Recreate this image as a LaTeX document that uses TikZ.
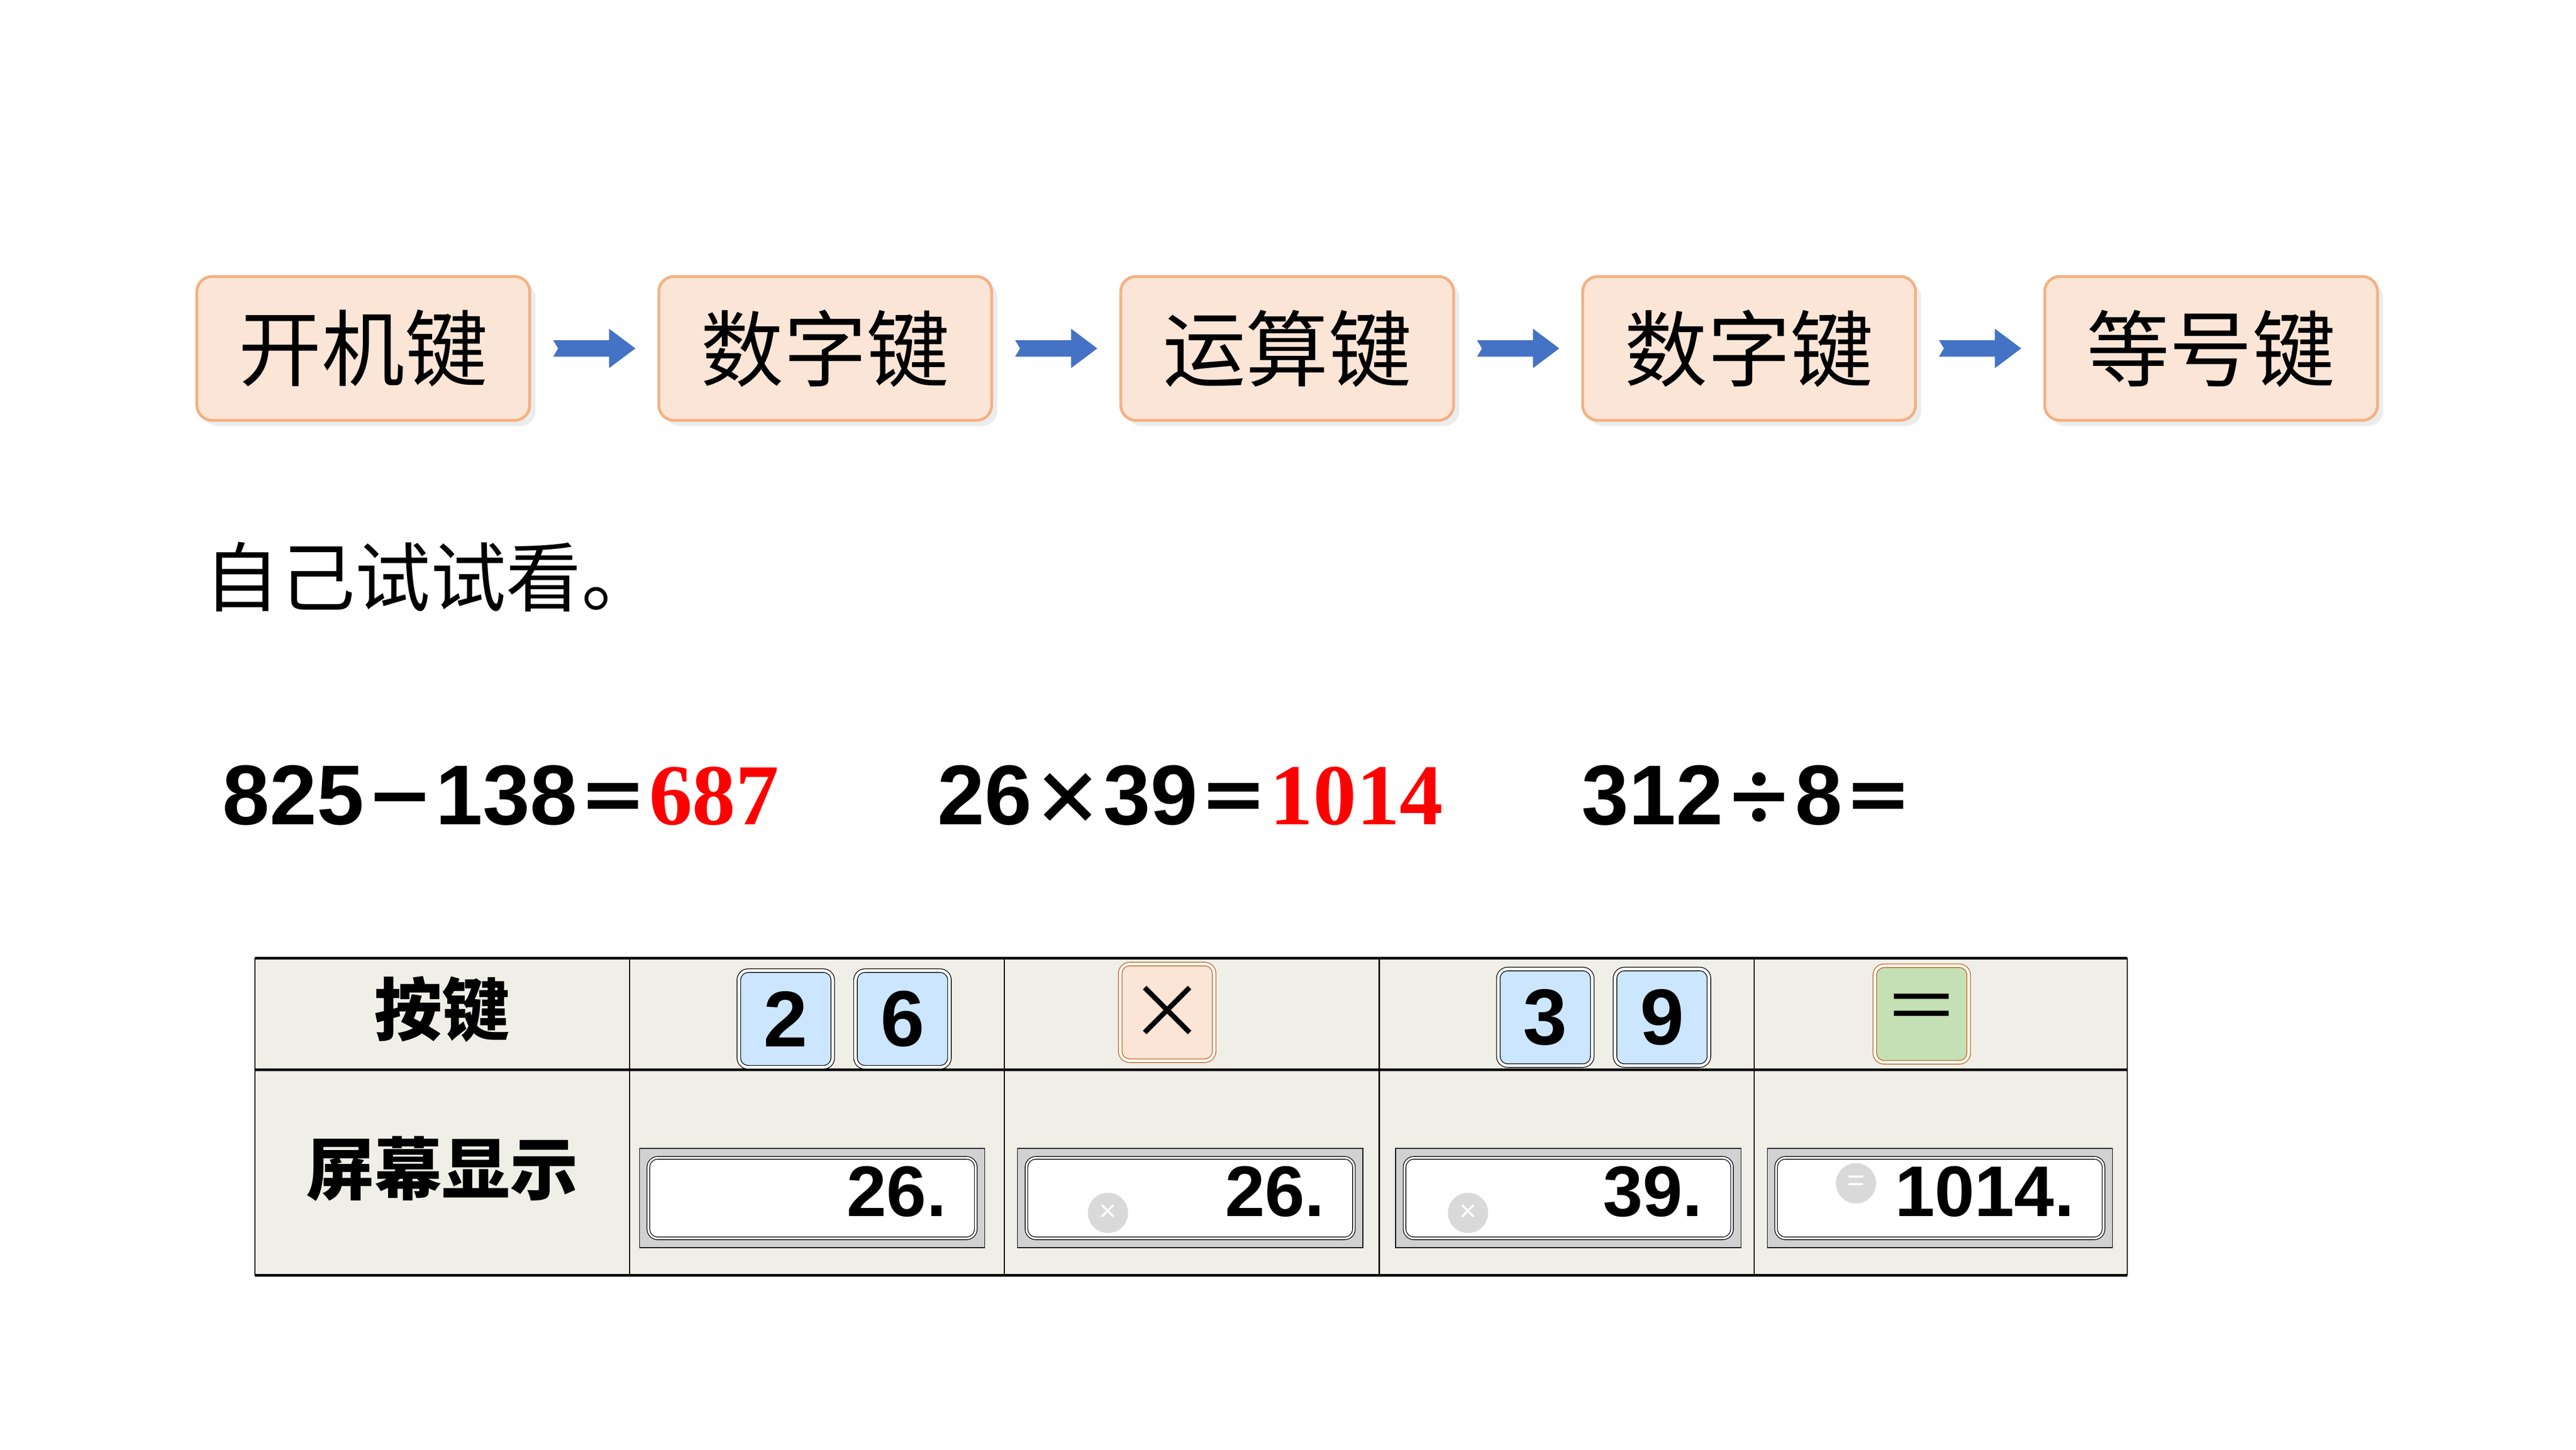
\documentclass[tikz,border=0pt]{standalone}
\usepackage{fontspec}
\setmainfont{Liberation Sans}
\newfontfamily\cjk{Noto Sans CJK SC}
\newfontfamily\serifb{Liberation Serif}
\usetikzlibrary{positioning, shadows, calc}
\definecolor{stepfill}{HTML}{FBE5D6}
\definecolor{stepline}{HTML}{F4B183}
\definecolor{arrowblue}{HTML}{4472C4}
\definecolor{tablefill}{HTML}{EFEFE7}
\definecolor{keyblue}{HTML}{CCE6FF}
\definecolor{keygreen}{HTML}{C5E0B4}
\definecolor{keyline}{HTML}{C55A11}
\newcommand{\opsym}[1]{{\cjk\fontsize{38}{38}\selectfont #1}}

\begin{document}
\begin{tikzpicture}[x=0.03063cm, y=-0.03063cm,
  stepbox/.style={rounded corners=8pt, draw=stepline, fill=stepfill, line width=1.5pt, minimum width=6.2cm, minimum height=2.68cm, font=\cjk\fontsize{44}{44}\selectfont, drop shadow={opacity=0.15, shadow xshift=3pt, shadow yshift=-3pt}},
  keybox/.style={rounded corners=5pt, draw=black, double, double distance=1.5pt, fill=keyblue, minimum width=1.75cm, minimum height=1.8cm, inner sep=0pt, font=\bfseries\fontsize{42}{42}\selectfont},
  screen/.style={draw=black, fill=black!18, minimum width=6.43cm, minimum height=1.85cm},
  screenin/.style={rounded corners=5pt, draw=black, double, double distance=1pt, fill=white, minimum width=6.1cm, minimum height=1.5cm},
  screentext/.style={font=\bfseries\fontsize{38}{38}\selectfont, anchor=east},
  icon/.style={circle, fill=black!15, minimum size=0.75cm, inner sep=0pt, text=white, font=\fontsize{16}{16}\selectfont},
  eq/.style={font=\bfseries\fontsize{45}{45}\selectfont, inner sep=0pt, anchor=west}]

  \useasboundingbox (0,0) rectangle (1567,882);

  %Steps
  \node[stepbox](power) at (221,212){开机键};
  \node[stepbox](digitsA) at (502,212){数字键};
  \node[stepbox](oper) at (783,212){运算键};
  \node[stepbox](digitsB) at (1064,212){数字键};
  \node[stepbox](equal) at (1345,212){等号键};
  \foreach \a/\b in {power/digitsA, digitsA/oper, oper/digitsB, digitsB/equal}{
    \coordinate (m) at ($(\a.east)!0.5!(\b.west)$);
    \fill[arrowblue] ($(m)+(-25,-5)$) -- ($(m)+(9,-5)$) -- ($(m)+(9,-12)$) -- ($(m)+(25,0)$)
      -- ($(m)+(9,12)$) -- ($(m)+(9,5)$) -- ($(m)+(-25,5)$) -- ($(m)+(-22,0)$) -- cycle;
  }

  %Task
  \node[anchor=west, font=\cjk\fontsize{40}{40}\selectfont, inner sep=0pt](task) at (124,351){自己试试看。};
  \node[eq](eqA) at (135,484){825\opsym{－}138\opsym{＝}\textcolor{red}{\serifb\bfseries\fontsize{46}{46}\selectfont 687}};
  \node[eq](eqB) at (570,484){26\opsym{×}39\opsym{＝}\textcolor{red}{\serifb\bfseries\fontsize{46}{46}\selectfont 1014}};
  \node[eq](eqC) at (962,484){312\opsym{÷}8\opsym{＝}};

  %Table
  \fill[tablefill] (155,583) rectangle (1294,776);
  \draw[line width=1.3pt] (155,583) -- (1294,583);
  \draw[line width=1.3pt] (155,651) -- (1294,651);
  \draw[line width=1.3pt] (155,776) -- (1294,776);
  \foreach \x in {155,383,611,839,1067,1294}
    \draw[line width=0.6pt] (\x,583) -- (\x,776);
  \node[font=\cjk\bfseries\fontsize{36}{36}\selectfont](keyhead) at (269,614){按键};
  \node[font=\cjk\bfseries\fontsize{36}{36}\selectfont](screenhead) at (269,711){屏幕显示};

  %Keys
  \node[keybox](k2) at (478,620){2};
  \node[keybox](k6) at (549,620){6};
  \node[keybox, fill=stepfill, draw=keyline, font=\cjk\fontsize{40}{40}\selectfont](ktimes) at (710,616){×};
  \node[keybox](k3) at (940,619){3};
  \node[keybox](k9) at (1011,619){9};
  \node[keybox, fill=keygreen, draw=keyline, font=\cjk\fontsize{40}{40}\selectfont](kequal) at (1169,617){＝};

  %Screens
  \foreach \c/\t [count=\i] in {494/26., 724/26., 954/39., 1180/1014.}{
    \node[screen](s\i) at (\c,729){};
    \node[screenin](si\i) at (s\i){};
    \node[screentext] at ($(si\i.east)+(-14,-4)$){\t};
  }
  \node[icon] at (674,738){×};
  \node[icon] at (893,738){×};
  \node[icon] at (1129,720){=};
\end{tikzpicture}
\end{document}
